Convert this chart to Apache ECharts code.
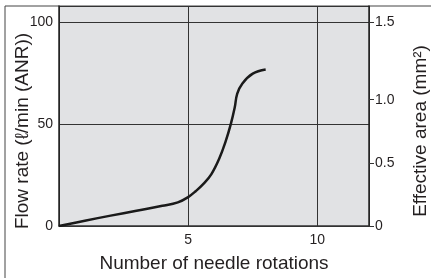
<!DOCTYPE html>
<html lang="en">
<head>
<meta charset="UTF-8">
<title>Flow rate vs needle rotations</title>
<script src="https://cdn.jsdelivr.net/npm/echarts@6/dist/echarts.min.js"></script>
<style>
  body { margin: 0; background: #fff; }
  #chart { width: 431px; height: 278px; }
</style>
</head>
<body>
<div id="chart"></div>
<script>
// needle rotations (x) and flow rate in l/min (y)
const rotations = [0, 1, 2, 3, 4, 4.6, 5, 5.3, 5.6, 5.9, 6.2, 6.45, 6.65, 6.8, 6.9, 7.1, 7.5, 8];
const flowRate  = [0, 2.6, 5.1, 7.5, 9.9, 11.6, 14.2, 17.2, 20.8, 25.5, 33, 41.5, 50, 58, 65, 70, 74.8, 76.8];

// right axis: effective area labels and where they sit on the flow scale
const areaLabels = ['0', '0.5', '1.0', '1.5'];
const areaAtFlow = [0, 31, 62, 100];

const font = 'Liberation Sans, Arial, Helvetica, sans-serif';
const ink = '#231f20';

const chart = echarts.init(document.getElementById('chart'));
chart.setOption({
    animation: false,
    textStyle: { fontFamily: font, color: ink },
    grid: {
        left: 59, right: 62, top: 6, bottom: 52,
        outerBoundsMode: 'none', containLabel: false,
        show: true, backgroundColor: '#e1e2e4', borderWidth: 0
    },
    xAxis: {
        type: 'value', min: 0, max: 12, interval: 5,
        name: 'Number of needle rotations', nameLocation: 'middle', nameGap: 28,
        nameTextStyle: { fontSize: 19, color: ink },
        axisLine: { lineStyle: { color: '#333', width: 1.5 } },
        axisTick: { show: false },
        axisLabel: { fontSize: 14, color: ink, margin: 7, showMinLabel: false, showMaxLabel: false },
        splitLine: { show: true, lineStyle: { color: '#333', width: 1 } }
    },
    yAxis: [{
        type: 'value', min: 0, max: 108, interval: 50,
        name: 'Flow rate (ℓ/min (ANR))', nameLocation: 'middle', nameGap: 27, nameRotate: 90,
        nameMoveOverlap: false,
        nameTextStyle: { fontSize: 19, color: ink, padding: [0, 30, 0, 0] },
        axisLine: { show: true, lineStyle: { color: '#222', width: 1.5 } },
        axisTick: { show: false },
        axisLabel: { fontSize: 14, color: ink, margin: 6, showMaxLabel: false },
        splitLine: { show: true, lineStyle: { color: '#333', width: 1 } }
    }, {
        type: 'value', min: 0, max: 108, position: 'right',
        name: 'Effective area (mm²)', nameLocation: 'middle', nameGap: 42, nameRotate: 90,
        nameMoveOverlap: false,
        nameTextStyle: { fontSize: 19, color: ink, padding: [0, 30, 0, 0] },
        axisLine: { show: true, lineStyle: { color: '#222', width: 1.5 } },
        axisTick: { show: true, inside: false, length: 5, customValues: areaAtFlow, lineStyle: { color: '#333' } },
        axisLabel: {
            fontSize: 14, color: ink, margin: 6, customValues: areaAtFlow,
            formatter: v => areaLabels[areaAtFlow.indexOf(v)] ?? ''
        },
        splitLine: { show: false }
    }],
    series: [{
        type: 'line',
        data: rotations.map((r, i) => [r, flowRate[i]]),
        showSymbol: false,
        smooth: 0.4,
        lineStyle: { color: '#1a1a1a', width: 2.5 }
    }],
    graphic: [
        { type: 'line', shape: { x1: 5, y1: 6, x2: 431, y2: 6 }, style: { stroke: '#444', lineWidth: 1 } },
        { type: 'line', shape: { x1: 5, y1: 6, x2: 5, y2: 278 }, style: { stroke: '#444', lineWidth: 1 } }
    ]
});
</script>
</body>
</html>
